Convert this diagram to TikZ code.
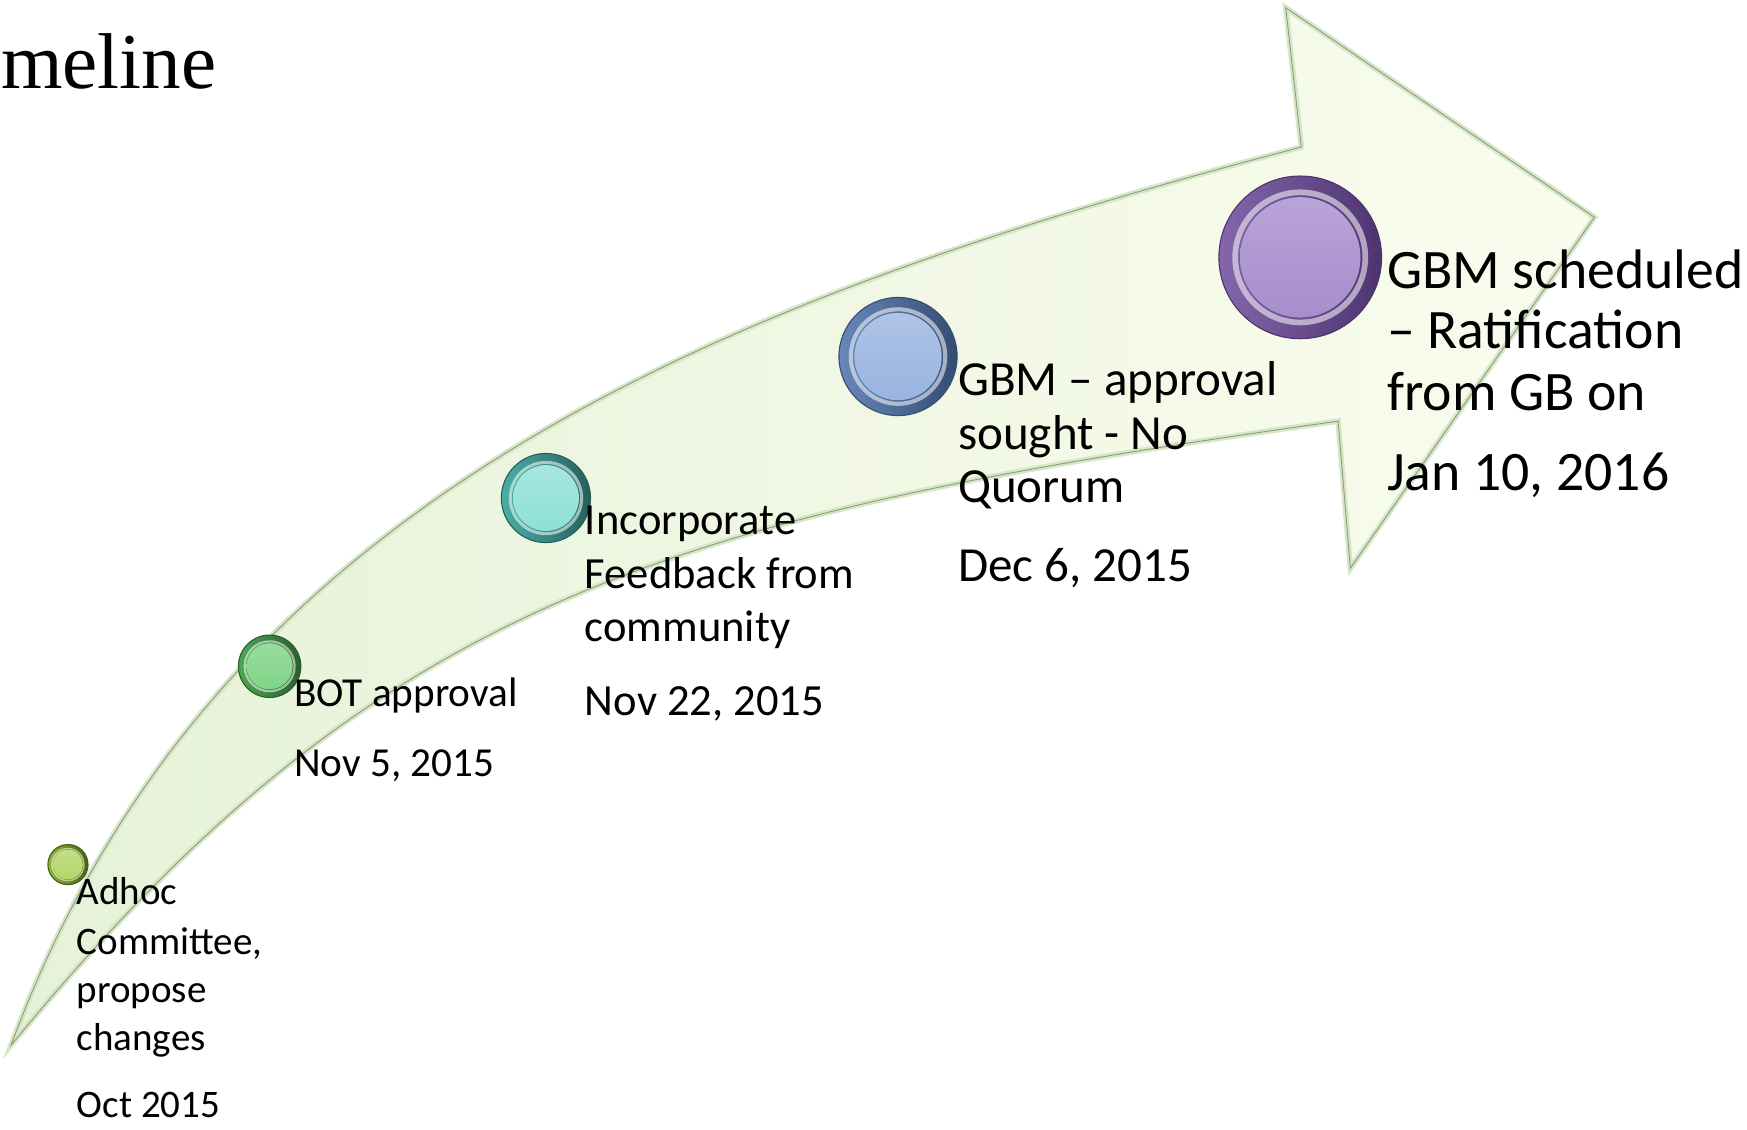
\documentclass[tikz,border=0pt]{standalone}
\usepackage{fontspec}
\setmainfont{Carlito}
\newfontfamily\titlefont{Liberation Serif}
\definecolor{arrowL}{HTML}{E6F2D8}
\definecolor{arrowR}{HTML}{FAFCEE}
\definecolor{bevel}{HTML}{D6E7C6}
\definecolor{edge}{HTML}{8A9A80}
\definecolor{olD}{HTML}{465F14}\definecolor{olM}{HTML}{8FB838}\definecolor{olL}{HTML}{B4D66A}
\definecolor{grD}{HTML}{285F2A}\definecolor{grM}{HTML}{4FA654}\definecolor{grL}{HTML}{7FD487}
\definecolor{tlD}{HTML}{275F5B}\definecolor{tlM}{HTML}{4AAFA7}\definecolor{tlL}{HTML}{8FE0D6}
\definecolor{blD}{HTML}{344D72}\definecolor{blM}{HTML}{6887BA}\definecolor{blL}{HTML}{9AB4E0}
\definecolor{puD}{HTML}{4E346F}\definecolor{puM}{HTML}{8466AC}\definecolor{puL}{HTML}{A78DCD}
\newcommand\tlball[7]{%
  \node[circle, inner sep=0, minimum size={2*#4pt}, left color=#6, right color=#5, draw=#5, line width=1pt] (#1) at (#2,#3) {};
  \node[circle, inner sep=0, minimum size={1.6*#4pt}, draw=white, draw opacity=0.55, line width={0.07*#4pt}] (#1r) at (#2,#3) {};
  \node[circle, inner sep=0, minimum size={1.48*#4pt}, top color=#7!80!white, bottom color=#7] (#1i) at (#2,#3) {};
}
\begin{document}
\begin{tikzpicture}[x=1pt,y=-1pt,
  txt/.style={anchor=base west, inner sep=0pt, outer sep=0pt, text=black},
  fA/.style={font=\fontsize{35}{42}\selectfont},
  fB/.style={font=\fontsize{37}{44}\selectfont},
  fC/.style={font=\fontsize{40}{48}\selectfont},
  fD/.style={font=\fontsize{44}{48}\selectfont},
  fE/.style={font=\fontsize{50}{54}\selectfont}]
\useasboundingbox (0,0) rectangle (1568,1014);
\clip (0,0) rectangle (1568,1014);
\fill[white] (0,0) rectangle (1568,1014);
% arrow
\path[left color=arrowL, right color=arrowR, draw=bevel, line width=5pt, line join=miter,
      postaction={draw=edge, line width=0.8pt}]
  (10,938) .. controls (190,450) and (640,270) .. (1168,132)
  -- (1154,7) -- (1431,195) -- (1212,510) -- (1201,378)
  .. controls (601,462) and (338,538) .. (10,938) -- cycle;
% balls
\tlball{b1}{61}{776}{18}{olD}{olM}{olL}
\tlball{b2}{242}{598}{28}{grD}{grM}{grL}
\tlball{b3}{490}{447}{40}{tlD}{tlM}{tlL}
\tlball{b4}{806}{320}{53}{blD}{blM}{blL}
\tlball{b5}{1167}{231}{73}{puD}{puM}{puL}
% title
\node[txt, font=\titlefont\fontsize{71}{80}\selectfont] (title) at (1,79) {meline};
% texts
\node[txt,fA] (a1) at (69,812) {Adhoc};
\node[txt,fA] (a2) at (69,857) {Committee,};
\node[txt,fA] (a3) at (69,900) {propose};
\node[txt,fA] (a4) at (69,943) {changes};
\node[txt,fA] (a5) at (69,1003) {Oct 2015};
\node[txt,fB] (c1) at (264,634) {BOT approval};
\node[txt,fB] (c2) at (264,697) {Nov 5, 2015};
\node[txt,fC] (d1) at (525,480) {Incorporate};
\node[txt,fC] (d2) at (525,528) {Feedback from};
\node[txt,fC] (d3) at (525,576) {community};
\node[txt,fC] (d4) at (525,642) {Nov 22, 2015};
\node[txt,fD] (e1) at (860,355) {GBM – approval};
\node[txt,fD] (e2) at (860,403) {sought - No};
\node[txt,fD] (e3) at (860,451) {Quorum};
\node[txt,fD] (e4) at (860,522) {Dec 6, 2015};
\node[txt,fE] (g1) at (1245,259) {GBM scheduled};
\node[txt,fE] (g2) at (1245,313) {– Ratification};
\node[txt,fE] (g3) at (1245,368) {from GB on};
\node[txt,fE] (g4) at (1245,440) {Jan 10, 2016};
\end{tikzpicture}
\end{document}
